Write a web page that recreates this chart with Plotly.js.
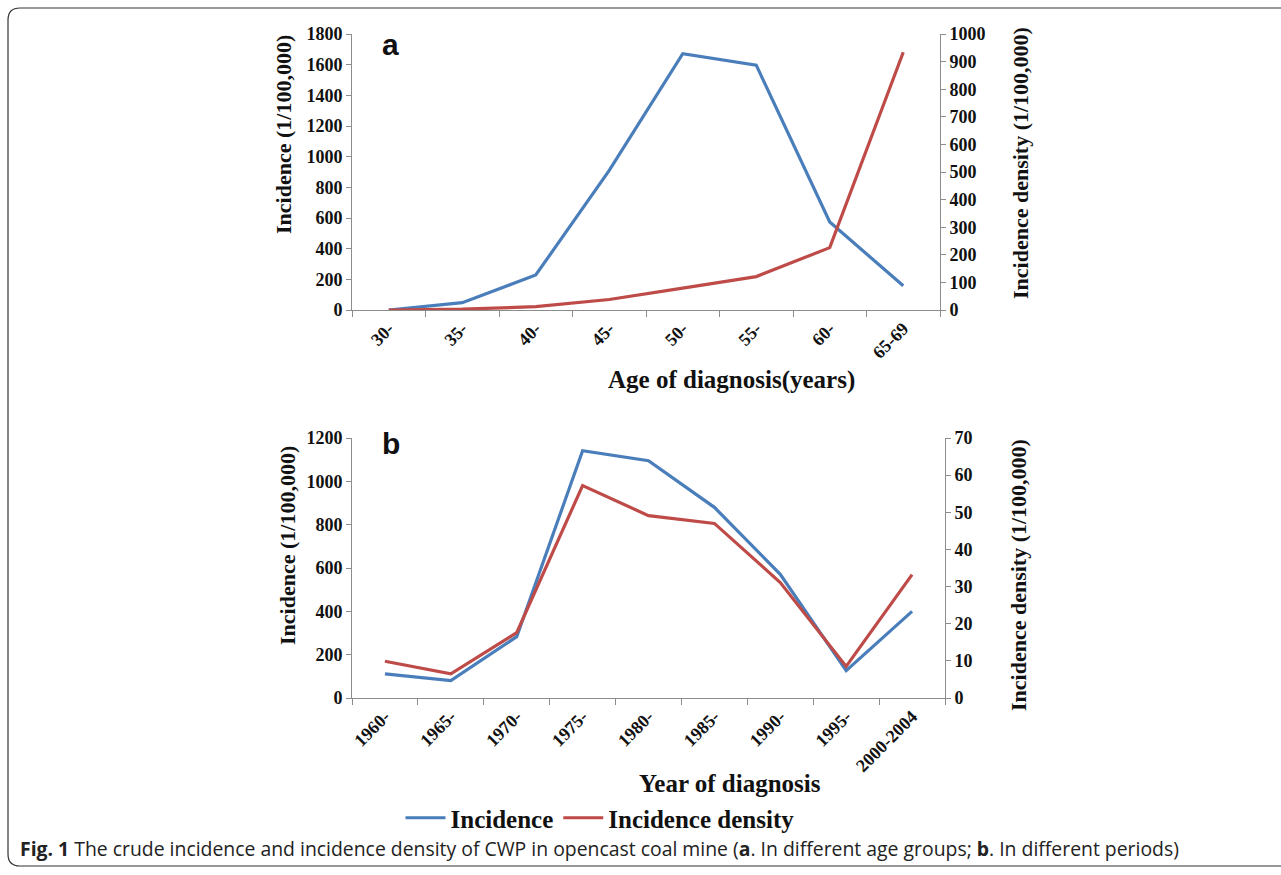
<!DOCTYPE html>
<html><head><meta charset="utf-8">
<script src="https://cdn.plot.ly/plotly-3.0.1.min.js"></script>
<style>html,body{margin:0;padding:0;background:#fff}#chart{width:1281px;height:875px}</style>
</head><body><div id="chart"></div>
<script>
// Panel a: age groups
const ageGroups = ['30-','35-','40-','45-','50-','55-','60-','65-69'];
const ageIncidence = [0, 48, 228, 910, 1672, 1597, 574, 158];
const ageDensity = [0, 3, 12, 38, 79, 121, 226, 934];
// Panel b: periods
const periods = ['1960-','1965-','1970-','1975-','1980-','1985-','1990-','1995-','2000-2004'];
const periodIncidence = [111, 80, 283, 1141, 1095, 880, 571, 126, 400];
const periodDensity = [9.9, 6.5, 17.6, 57.2, 49.1, 47.0, 31.1, 8.5, 33.2];

const W = 1281, H = 875;
const px = x => x / W, py = y => 1 - y / H;
const blue = '#4a7ebb', red = '#be4b48';
const serif = 'Liberation Serif, Times New Roman, serif';
const tickFont = {family: serif, size: 18, color: '#111', weight: 'bold'};
const axisGray = '#8c8c8c';

const traces = [
  {x: ageGroups, y: ageIncidence, xaxis: 'x', yaxis: 'y', type: 'scatter', mode: 'lines',
   name: 'Incidence', line: {color: blue, width: 3.2}, legendgroup: 'inc'},
  {x: ageGroups, y: ageDensity, xaxis: 'x', yaxis: 'y2', type: 'scatter', mode: 'lines',
   name: 'Incidence density', line: {color: red, width: 3.2}, legendgroup: 'den'},
  {x: periods, y: periodIncidence, xaxis: 'x2', yaxis: 'y3', type: 'scatter', mode: 'lines',
   name: 'Incidence', line: {color: blue, width: 3.2}, legendgroup: 'inc', showlegend: false},
  {x: periods, y: periodDensity, xaxis: 'x2', yaxis: 'y4', type: 'scatter', mode: 'lines',
   name: 'Incidence density', line: {color: red, width: 3.2}, legendgroup: 'den', showlegend: false}
];

const xBase = {type: 'category', showgrid: false, showline: true, linecolor: axisGray, linewidth: 1,
  ticks: 'outside', ticklen: 6, tickcolor: axisGray, tickson: 'boundaries', tickangle: -45,
  tickfont: tickFont, zeroline: false};
const yBase = {showgrid: false, showline: true, linecolor: axisGray, linewidth: 1,
  ticks: 'outside', ticklen: 5, tickcolor: axisGray, tickfont: tickFont, zeroline: false};

const r = 12;
const L = 8, T = 8, B = 866, R = 1300;
const border = `M ${px(R)},${py(T)} L ${px(L + r)},${py(T)} Q ${px(L)},${py(T)} ${px(L)},${py(T + r)} ` +
  `L ${px(L)},${py(B - r)} Q ${px(L)},${py(B)} ${px(L + r)},${py(B)} L ${px(R)},${py(B)}`;

function txt(text, x, y, size, angle, family) {
  return {text: text, x: px(x), y: py(y), xref: 'paper', yref: 'paper', xanchor: 'center', yanchor: 'middle',
    showarrow: false, textangle: angle || 0,
    font: {family: family || serif, size: size, color: '#111'}};
}

const layout = {
  width: W, height: H,
  margin: {l: 0, r: 0, t: 0, b: 0},
  paper_bgcolor: '#fff', plot_bgcolor: '#fff',
  showlegend: true,
  legend: {orientation: 'h', x: px(600), xanchor: 'center', y: py(818), yanchor: 'middle',
    font: {family: serif, size: 25, color: '#111', weight: 'bold'}, itemwidth: 40, tracegroupgap: 0},
  xaxis: Object.assign({}, xBase, {domain: [px(352), px(940)], anchor: 'y', range: [-0.5, 7.5]}),
  yaxis: Object.assign({}, yBase, {domain: [py(310), py(34)], anchor: 'x', range: [0, 1800], dtick: 200}),
  yaxis2: Object.assign({}, yBase, {overlaying: 'y', side: 'right', anchor: 'x', range: [0, 1000], dtick: 100}),
  xaxis2: Object.assign({}, xBase, {domain: [px(352), px(945)], anchor: 'y3', range: [-0.5, 8.5]}),
  yaxis3: Object.assign({}, yBase, {domain: [py(698), py(438)], anchor: 'x2', range: [0, 1200], dtick: 200}),
  yaxis4: Object.assign({}, yBase, {overlaying: 'y3', side: 'right', anchor: 'x2', range: [0, 70], dtick: 10}),
  annotations: [
    txt('<b>Age of diagnosis(years)</b>', 731, 380, 25),
    txt('<b>Year of diagnosis</b>', 730, 783, 25),
    txt('<b>Incidence (1/100,000)</b>', 284, 135, 22, -90),
    txt('<b>Incidence density (1/100,000)</b>', 1020, 163, 22, -90),
    txt('<b>Incidence (1/100,000)</b>', 287, 546, 22, -90),
    txt('<b>Incidence density (1/100,000)</b>', 1018, 575, 22, -90),
    {text: '<b>a</b>', x: px(380), y: py(45), xref: 'paper', yref: 'paper', xanchor: 'left', yanchor: 'middle',
     showarrow: false, font: {family: 'Liberation Sans, Arial, sans-serif', size: 30, color: '#111'}},
    {text: '<b>b</b>', x: px(380), y: py(443), xref: 'paper', yref: 'paper', xanchor: 'left', yanchor: 'middle',
     showarrow: false, font: {family: 'Liberation Sans, Arial, sans-serif', size: 30, color: '#111'}},
    {text: '<b>Fig. 1</b> The crude incidence and incidence density of CWP in opencast coal mine (<b>a</b>. In different age groups; <b>b</b>. In different periods)',
     x: px(18), y: py(848), xref: 'paper', yref: 'paper', xanchor: 'left', yanchor: 'middle',
     showarrow: false, font: {family: 'Open Sans, Noto Sans, sans-serif', size: 19.4, color: '#222'}}
  ],
  shapes: [
    {type: 'path', path: border, xref: 'paper', yref: 'paper', line: {color: '#333', width: 1.2}}
  ]
};

Plotly.newPlot('chart', traces, layout, {displayModeBar: false, staticPlot: true});
</script>
</body></html>
